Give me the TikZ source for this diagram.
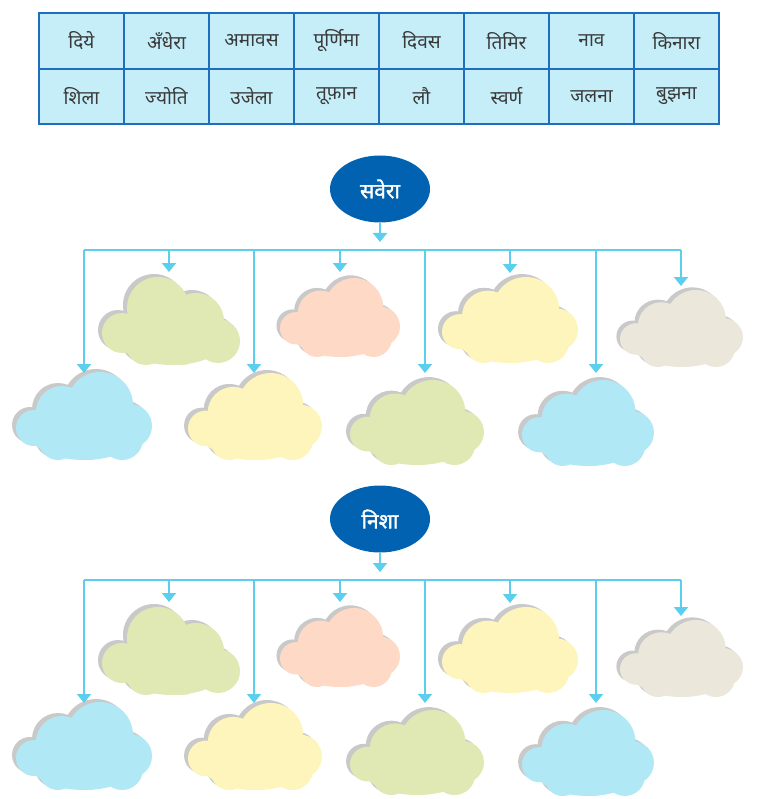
\documentclass[tikz,border=0pt]{standalone}
\usepackage{fontspec}
\newfontfamily\deva[Script=Devanagari]{Noto Sans}
\newfontfamily\devab[Script=Devanagari,FakeBold=1.6]{Noto Sans}
\usetikzlibrary{arrows.meta,shapes.geometric}
\definecolor{cellfill}{HTML}{C5EEF9}
\definecolor{cellline}{HTML}{1F6EBE}
\definecolor{celltext}{HTML}{3A3A3A}
\definecolor{ellfill}{HTML}{0062B0}
\definecolor{connc}{HTML}{5CCFEE}
\definecolor{shadowc}{HTML}{C9C9C9}
\definecolor{cgreen}{HTML}{E0E9B4}
\definecolor{cpink}{HTML}{FDD9C6}
\definecolor{cyellow}{HTML}{FEF5BC}
\definecolor{cbeige}{HTML}{EBE8DB}
\definecolor{cblue}{HTML}{B1E8F5}
\newcommand\cloudAfill[1]{\fill[#1] (20,56) circle[radius=20pt] (56,31) circle[radius=31pt]
  (94,44) circle[radius=28pt] (116,64) circle[radius=22pt] (44,68) circle[radius=20pt]
  (80,64) circle[radius=24pt] (70,64) ellipse[x radius=52pt,y radius=24pt];}
\newcommand\cloudBfill[1]{\fill[#1] (18,56) circle[radius=18pt] (46,40) circle[radius=26pt]
  (84,33) circle[radius=33pt] (114,54) circle[radius=22pt] (106,67) circle[radius=21pt]
  (74,64) circle[radius=24pt] (42,69) circle[radius=19pt] (68,64) ellipse[x radius=52pt,y radius=24pt];}
\tikzset{
  pics/cloudA/.style={code={
    \begin{scope}[shift={(-4,-3)}]\cloudAfill{shadowc}\end{scope}
    \cloudAfill{#1}}},
  pics/cloudB/.style={code={
    \begin{scope}[shift={(-4,-3)}]\cloudBfill{shadowc}\end{scope}
    \cloudBfill{#1}}},
  cell/.style={rectangle, draw=cellline, fill=cellfill, line width=1.6pt,
    minimum width=85pt, minimum height=55.5pt, inner sep=0pt, text=celltext,
    font=\deva\fontsize{19}{22}\selectfont},
  ell/.style={ellipse, fill=ellfill, minimum width=100pt, minimum height=67pt,
    inner sep=0pt, text=white, font=\devab\fontsize{21}{25}\selectfont},
  conn/.style={draw=connc, line width=2pt},
  connarrow/.style={conn, -{Triangle[width=14pt,length=9pt]}},
}
\begin{document}
\begin{tikzpicture}[x=1pt,y=-1pt]
\useasboundingbox (0,0) rectangle (758,799);
% table
\foreach \w [count=\i] in {दिये,अँधेरा,अमावस,पूर्णिमा,दिवस,तिमिर,नाव,किनारा}
  \node[cell] (a\i) at ({39+85*(\i-0.5)},41) {\w};
\foreach \w [count=\i] in {शिला,ज्योति,उजेला,तूफ़ान,लौ,स्वर्ण,जलना,बुझना}
  \node[cell] (b\i) at ({39+85*(\i-0.5)},96.5) {\w};
% two sections
\foreach \k/\dy/\lab in {1/0/सवेरा,2/330/निशा}{
  % clouds
  \pic at (102,277+\dy) {cloudA=cgreen};
  \pic[xscale=0.882,yscale=0.898] at (280,278+\dy) {cloudB=cpink};
  \pic[yscale=0.977] at (442,277+\dy) {cloudB=cyellow};
  \pic[xscale=0.904,yscale=0.875] at (620,290+\dy) {cloudB=cbeige};
  \pic at (16,372+\dy) {cloudB=cblue};
  \pic[xscale=0.985,yscale=0.99] at (188,373+\dy) {cloudB=cyellow};
  \pic[xscale=0.985,yscale=0.966] at (350,380+\dy) {cloudB=cgreen};
  \pic[xscale=0.97,yscale=0.977] at (522,380+\dy) {cloudB=cblue};
  % ellipse
  \node[ell] (e\k) at (380,189+\dy) {\lab};
  \coordinate (h\k) at (380,242+\dy);
  \draw[connarrow] (e\k.south) -- (h\k);
  % bus
  \foreach \x/\ty [count=\j] in {84/373,169/272,254/373,340/272,425/373,510/273,596/373,681/286}{
    \coordinate (d\k-\j) at (\x,250+\dy);
    \coordinate (t\k-\j) at (\x,\ty+\dy);
  }
  \draw[conn] (d\k-1) -- (d\k-8);
  \foreach \j in {1,...,8}
    \draw[connarrow] (d\k-\j) -- (t\k-\j);
}
\end{tikzpicture}
\end{document}
